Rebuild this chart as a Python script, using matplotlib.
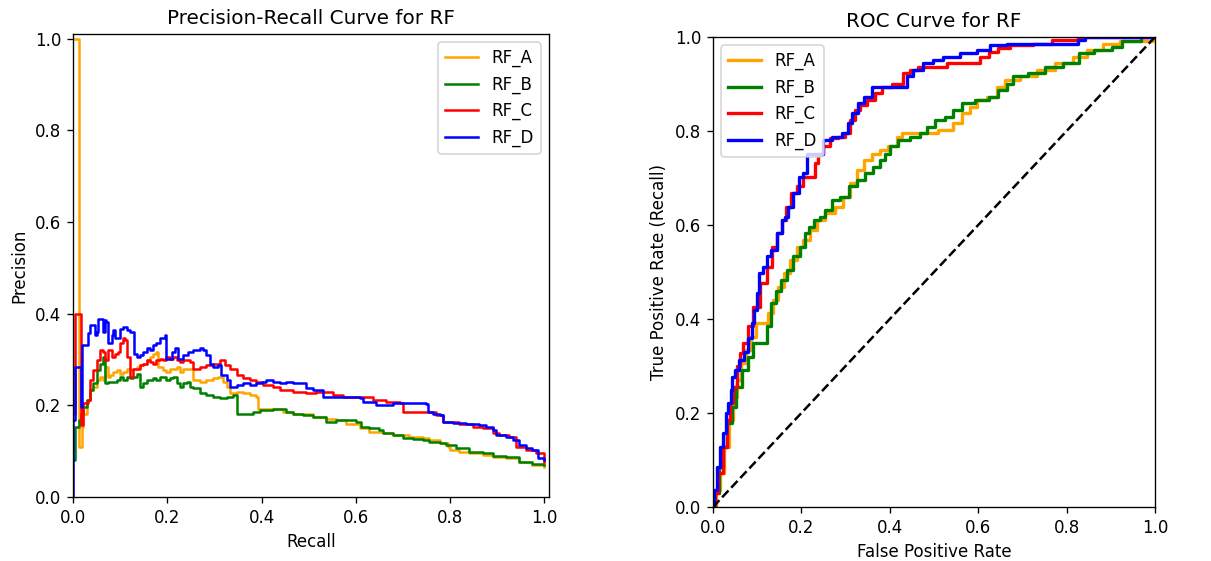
import matplotlib
matplotlib.use("Agg")
from matplotlib import pyplot as plt

labels = ["RF_A", "RF_B", "RF_C", "RF_D"]
colors = ["orange", "green", "red", "blue"]

# Precision-recall curves (recall, precision)
pr_a_recall = [0.0, 0.013, 0.018, 0.022, 0.029, 0.036, 0.043, 0.050, 0.057, 0.064, 0.068, 0.075, 0.078, 0.085, 0.093,
               0.100, 0.107, 0.114, 0.121, 0.128, 0.135, 0.142, 0.149, 0.156, 0.163, 0.170, 0.177, 0.181, 0.191, 0.198,
               0.206, 0.220, 0.227, 0.234, 0.248, 0.255, 0.269, 0.283, 0.297, 0.308, 0.318, 0.326, 0.333, 0.347, 0.361,
               0.375, 0.389, 0.393, 0.410, 0.432, 0.446, 0.467, 0.488, 0.509, 0.537, 0.559, 0.580, 0.608, 0.629, 0.657,
               0.679, 0.714, 0.742, 0.756, 0.778, 0.795, 0.799, 0.820, 0.841, 0.869, 0.891, 0.919, 0.947, 0.975, 1.0]
pr_a_precision = [1.0, 0.110, 0.153, 0.182, 0.211, 0.233, 0.240, 0.255, 0.262, 0.255, 0.284, 0.262, 0.266, 0.273, 0.277,
                  0.269, 0.273, 0.280, 0.277, 0.280, 0.284, 0.288, 0.291, 0.298, 0.306, 0.313, 0.317, 0.284, 0.277, 0.273,
                  0.280, 0.284, 0.273, 0.280, 0.280, 0.255, 0.251, 0.255, 0.259, 0.262, 0.251, 0.240, 0.226, 0.229, 0.226,
                  0.222, 0.219, 0.193, 0.193, 0.193, 0.186, 0.182, 0.182, 0.175, 0.171, 0.168, 0.160, 0.150, 0.142, 0.139,
                  0.135, 0.131, 0.128, 0.124, 0.117, 0.110, 0.102, 0.099, 0.095, 0.092, 0.088, 0.084, 0.077, 0.070, 0.066]

pr_b_recall = [0.0, 0.004, 0.013, 0.016, 0.022, 0.029, 0.036, 0.043, 0.050, 0.057, 0.064, 0.068, 0.075, 0.085, 0.093,
               0.100, 0.107, 0.114, 0.121, 0.128, 0.135, 0.142, 0.149, 0.156, 0.163, 0.170, 0.177, 0.184, 0.191, 0.198,
               0.206, 0.213, 0.220, 0.227, 0.234, 0.241, 0.248, 0.255, 0.269, 0.283, 0.297, 0.311, 0.326, 0.340, 0.347,
               0.361, 0.382, 0.396, 0.410, 0.424, 0.439, 0.453, 0.467, 0.488, 0.509, 0.530, 0.537, 0.559, 0.587, 0.601,
               0.612, 0.629, 0.650, 0.657, 0.679, 0.700, 0.721, 0.742, 0.756, 0.778, 0.792, 0.813, 0.841, 0.869, 0.891,
               0.919, 0.947, 0.975, 1.0]
pr_b_precision = [0.080, 0.153, 0.168, 0.182, 0.197, 0.211, 0.233, 0.248, 0.277, 0.291, 0.306, 0.248, 0.251, 0.251, 0.255,
                  0.262, 0.255, 0.262, 0.259, 0.262, 0.269, 0.240, 0.248, 0.255, 0.255, 0.259, 0.255, 0.262, 0.262, 0.255,
                  0.259, 0.262, 0.248, 0.240, 0.248, 0.251, 0.240, 0.237, 0.226, 0.222, 0.219, 0.215, 0.219, 0.222, 0.182,
                  0.182, 0.186, 0.190, 0.190, 0.193, 0.193, 0.186, 0.182, 0.179, 0.175, 0.175, 0.164, 0.168, 0.168, 0.164,
                  0.153, 0.150, 0.146, 0.139, 0.135, 0.128, 0.126, 0.124, 0.121, 0.117, 0.113, 0.106, 0.099, 0.095, 0.089,
                  0.088, 0.077, 0.073, 0.070]

pr_c_recall = [0.0, 0.004, 0.016, 0.022, 0.032, 0.036, 0.043, 0.050, 0.057, 0.064, 0.068, 0.075, 0.082, 0.089, 0.096,
               0.100, 0.107, 0.110, 0.114, 0.121, 0.128, 0.135, 0.142, 0.149, 0.156, 0.163, 0.170, 0.177, 0.184, 0.191,
               0.198, 0.206, 0.213, 0.220, 0.227, 0.234, 0.248, 0.255, 0.269, 0.283, 0.297, 0.311, 0.322, 0.333, 0.347,
               0.361, 0.375, 0.389, 0.403, 0.424, 0.439, 0.467, 0.495, 0.516, 0.537, 0.552, 0.573, 0.608, 0.636, 0.665,
               0.693, 0.700, 0.735, 0.749, 0.770, 0.785, 0.820, 0.848, 0.869, 0.891, 0.905, 0.926, 0.940, 0.961, 0.982,
               1.0]
pr_c_precision = [0.182, 0.400, 0.157, 0.204, 0.211, 0.255, 0.277, 0.298, 0.320, 0.317, 0.298, 0.320, 0.306, 0.313, 0.317,
                  0.335, 0.346, 0.342, 0.306, 0.262, 0.280, 0.280, 0.288, 0.291, 0.298, 0.295, 0.291, 0.298, 0.302, 0.298,
                  0.306, 0.302, 0.306, 0.298, 0.295, 0.298, 0.295, 0.280, 0.284, 0.288, 0.291, 0.298, 0.288, 0.280, 0.266,
                  0.259, 0.255, 0.251, 0.244, 0.240, 0.233, 0.229, 0.226, 0.229, 0.229, 0.222, 0.219, 0.219, 0.211, 0.208,
                  0.204, 0.186, 0.186, 0.186, 0.179, 0.164, 0.160, 0.153, 0.150, 0.139, 0.135, 0.131, 0.110, 0.102, 0.095,
                  0.077]

pr_d_recall = [0.0, 0.001, 0.004, 0.016, 0.020, 0.029, 0.032, 0.036, 0.043, 0.047, 0.050, 0.054, 0.061, 0.064, 0.068,
               0.071, 0.075, 0.082, 0.085, 0.089, 0.100, 0.107, 0.114, 0.121, 0.129, 0.135, 0.142, 0.149, 0.156, 0.163,
               0.170, 0.177, 0.184, 0.195, 0.198, 0.209, 0.216, 0.223, 0.234, 0.244, 0.255, 0.269, 0.276, 0.283, 0.290,
               0.297, 0.308, 0.315, 0.326, 0.333, 0.347, 0.361, 0.375, 0.389, 0.400, 0.410, 0.424, 0.439, 0.453, 0.467,
               0.481, 0.495, 0.509, 0.530, 0.552, 0.580, 0.608, 0.615, 0.643, 0.679, 0.714, 0.749, 0.753, 0.763, 0.778,
               0.785, 0.806, 0.834, 0.862, 0.876, 0.891, 0.898, 0.919, 0.933, 0.947, 0.961, 0.975, 0.986, 1.0]
pr_d_precision = [0.0, 0.168, 0.284, 0.197, 0.331, 0.331, 0.357, 0.375, 0.375, 0.353, 0.360, 0.389, 0.389, 0.360, 0.386,
                  0.382, 0.335, 0.353, 0.364, 0.346, 0.367, 0.371, 0.364, 0.360, 0.313, 0.306, 0.309, 0.317, 0.324, 0.320,
                  0.331, 0.335, 0.346, 0.353, 0.302, 0.317, 0.324, 0.302, 0.309, 0.317, 0.320, 0.324, 0.320, 0.309, 0.291,
                  0.284, 0.288, 0.266, 0.255, 0.240, 0.244, 0.248, 0.244, 0.248, 0.251, 0.255, 0.251, 0.248, 0.251, 0.248,
                  0.248, 0.237, 0.233, 0.219, 0.219, 0.219, 0.215, 0.208, 0.200, 0.204, 0.204, 0.202, 0.186, 0.182, 0.179,
                  0.164, 0.162, 0.159, 0.157, 0.153, 0.146, 0.135, 0.131, 0.124, 0.113, 0.106, 0.102, 0.084, 0.081]

# ROC curves (false positive rate, true positive rate)
roc_a_fpr = [0.0, 0.012, 0.020, 0.031, 0.042, 0.050, 0.057, 0.069, 0.080, 0.091, 0.103, 0.118, 0.129, 0.141, 0.152,
             0.167, 0.182, 0.197, 0.212, 0.227, 0.242, 0.265, 0.287, 0.302, 0.318, 0.333, 0.348, 0.370, 0.385, 0.408,
             0.423, 0.431, 0.483, 0.536, 0.551, 0.574, 0.589, 0.604, 0.635, 0.650, 0.672, 0.717, 0.747, 0.800, 0.830,
             0.860, 0.906, 0.936, 0.990, 1.0]
roc_a_tpr = [0.0, 0.036, 0.072, 0.128, 0.185, 0.235, 0.270, 0.306, 0.334, 0.362, 0.391, 0.391, 0.412, 0.440, 0.469,
             0.497, 0.526, 0.554, 0.568, 0.589, 0.611, 0.625, 0.639, 0.660, 0.689, 0.717, 0.738, 0.752, 0.760, 0.767,
             0.788, 0.795, 0.795, 0.802, 0.816, 0.838, 0.852, 0.866, 0.873, 0.894, 0.909, 0.916, 0.930, 0.944, 0.958,
             0.972, 0.986, 0.992, 0.992, 1.0]

roc_b_fpr = [0.0, 0.008, 0.020, 0.027, 0.038, 0.046, 0.057, 0.072, 0.084, 0.095, 0.118, 0.125, 0.136, 0.148, 0.159,
             0.174, 0.189, 0.204, 0.212, 0.220, 0.235, 0.250, 0.257, 0.280, 0.295, 0.318, 0.333, 0.355, 0.370, 0.385,
             0.393, 0.408, 0.431, 0.461, 0.476, 0.491, 0.514, 0.536, 0.551, 0.574, 0.612, 0.635, 0.656, 0.672, 0.687,
             0.740, 0.762, 0.823, 0.834, 0.891, 0.913, 0.936, 1.0]
roc_b_tpr = [0.0, 0.029, 0.086, 0.128, 0.178, 0.213, 0.256, 0.291, 0.320, 0.348, 0.348, 0.384, 0.433, 0.459, 0.483,
             0.504, 0.533, 0.554, 0.582, 0.596, 0.611, 0.618, 0.632, 0.653, 0.660, 0.682, 0.696, 0.710, 0.724, 0.738,
             0.752, 0.767, 0.781, 0.788, 0.795, 0.809, 0.823, 0.830, 0.845, 0.859, 0.866, 0.873, 0.887, 0.901, 0.916,
             0.923, 0.937, 0.944, 0.965, 0.972, 0.979, 0.992, 1.0]

roc_c_fpr = [0.0, 0.008, 0.016, 0.027, 0.035, 0.042, 0.050, 0.057, 0.065, 0.072, 0.084, 0.099, 0.114, 0.129, 0.136,
             0.152, 0.159, 0.170, 0.182, 0.197, 0.212, 0.227, 0.235, 0.242, 0.257, 0.272, 0.295, 0.302, 0.318, 0.325,
             0.340, 0.355, 0.378, 0.385, 0.423, 0.438, 0.453, 0.476, 0.521, 0.536, 0.597, 0.612, 0.635, 0.656, 0.687,
             0.762, 0.770, 0.815, 0.838, 1.0]
roc_c_tpr = [0.0, 0.029, 0.072, 0.128, 0.185, 0.221, 0.256, 0.299, 0.327, 0.348, 0.384, 0.426, 0.476, 0.511, 0.554,
             0.582, 0.611, 0.639, 0.667, 0.682, 0.703, 0.703, 0.731, 0.752, 0.767, 0.784, 0.788, 0.795, 0.823, 0.845,
             0.855, 0.866, 0.880, 0.894, 0.901, 0.923, 0.930, 0.937, 0.937, 0.944, 0.944, 0.958, 0.969, 0.976, 0.983,
             0.986, 0.993, 0.993, 1.0, 1.0]

roc_d_fpr = [0.0, 0.005, 0.012, 0.020, 0.027, 0.031, 0.038, 0.042, 0.046, 0.054, 0.065, 0.076, 0.084, 0.091, 0.095,
             0.103, 0.106, 0.121, 0.125, 0.136, 0.152, 0.159, 0.167, 0.174, 0.189, 0.201, 0.204, 0.220, 0.242, 0.257,
             0.280, 0.302, 0.310, 0.321, 0.333, 0.348, 0.370, 0.431, 0.446, 0.461, 0.491, 0.506, 0.536, 0.582, 0.612,
             0.642, 0.687, 0.762, 0.815, 0.838, 0.845, 1.0]
roc_d_tpr = [0.0, 0.036, 0.086, 0.128, 0.157, 0.199, 0.221, 0.249, 0.277, 0.291, 0.313, 0.330, 0.359, 0.391, 0.419,
             0.455, 0.497, 0.511, 0.533, 0.547, 0.582, 0.611, 0.618, 0.639, 0.667, 0.703, 0.710, 0.752, 0.752, 0.781,
             0.788, 0.795, 0.816, 0.838, 0.859, 0.873, 0.894, 0.894, 0.916, 0.930, 0.944, 0.951, 0.958, 0.965, 0.972,
             0.983, 0.985, 0.986, 0.986, 0.993, 1.0, 1.0]

pr_data = [(pr_a_recall, pr_a_precision), (pr_b_recall, pr_b_precision),
           (pr_c_recall, pr_c_precision), (pr_d_recall, pr_d_precision)]
roc_data = [(roc_a_fpr, roc_a_tpr), (roc_b_fpr, roc_b_tpr),
            (roc_c_fpr, roc_c_tpr), (roc_d_fpr, roc_d_tpr)]

fig = plt.figure(figsize=(1211 / 120, 561 / 120), dpi=120)

# Precision-recall
ax1 = fig.add_axes([0.0603, 0.1141, 0.393, 0.8253])
for (r, p), lab, col in zip(pr_data, labels, colors):
    ax1.plot(r, p, drawstyle='steps-post', color=col, linewidth=1.5, label=lab)
ax1.set_xlim(0.0, 1.01)
ax1.set_ylim(0.0, 1.01)
ax1.set_xlabel('Recall')
ax1.set_ylabel('Precision')
ax1.set_title('Precision-Recall Curve for RF')
ax1.legend(loc='upper right')

# ROC
ax2 = fig.add_axes([0.5888, 0.0963, 0.365, 0.8378])
for (f, t), lab, col in zip(roc_data, labels, colors):
    ax2.plot(f, t, drawstyle='steps-mid', color=col, linewidth=2, label=lab)
ax2.plot([0, 1], [0, 1], 'k--', linewidth=1.5)
ax2.set_xlim(0.0, 1.0)
ax2.set_ylim(0.0, 1.0)
ax2.set_xlabel('False Positive Rate')
ax2.set_ylabel('True Positive Rate (Recall)')
ax2.set_title('ROC Curve for RF')
ax2.legend(loc='upper left')

fig.savefig('out.png', dpi=120)
